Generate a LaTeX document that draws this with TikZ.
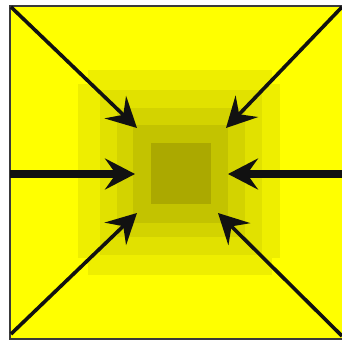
\documentclass[tikz,border=0pt]{standalone}
\usetikzlibrary{arrows.meta}
\definecolor{ink}{HTML}{111111}
\definecolor{frame}{HTML}{3A3A3A}
\definecolor{sun}{HTML}{FFFF00}
\definecolor{lev1}{HTML}{EEEE00}
\definecolor{lev2}{HTML}{E1E100}
\definecolor{lev3}{HTML}{D3D300}
\definecolor{lev4}{HTML}{C3C300}
\definecolor{lev5}{HTML}{ABA900}
\tikzset{
  band/.style={draw=none},
  pull/.style={-{Stealth[length=30pt,width=31pt,inset=11pt]},draw=ink,line width=3.6pt},
  pullw/.style={pull,line width=8pt},
}
\begin{document}
\begin{tikzpicture}[x=1pt,y=-1pt]
  \useasboundingbox (0,0) rectangle (342,342);
  % ── field ──
  \fill[sun] (10,6) rectangle (345,339);
  \fill[lev1] (88,70) rectangle (272,275);
  \fill[lev1] (78,84) rectangle (280,258);
  \fill[lev2] (100,90) rectangle (262,255);
  \fill[lev3] (117,108) rectangle (245,237);
  \fill[lev4] (133,125) rectangle (228,223);
  \fill[lev5] (151,143) rectangle (211,204);
  \draw[frame,line width=2pt] (10,6) rectangle (345,339);
  % ── ends ──
  \coordinate (tl) at (11,7);   \coordinate (tr) at (342,7);
  \coordinate (ml) at (10,174); \coordinate (mr) at (343,174);
  \coordinate (bl) at (11,334); \coordinate (br) at (342,336);
  \coordinate (ktl) at (137,128); \coordinate (ktr) at (226,128);
  \coordinate (kml) at (135,174); \coordinate (kmr) at (228,174);
  \coordinate (kbl) at (137,213); \coordinate (kbr) at (218,213);
  % ── arrows ──
  \draw[pull] (tl)--(ktl); \draw[pull] (tr)--(ktr);
  \draw[pullw] (ml)--(kml); \draw[pullw] (mr)--(kmr);
  \draw[pull] (bl)--(kbl); \draw[pull] (br)--(kbr);
\end{tikzpicture}
\end{document}
